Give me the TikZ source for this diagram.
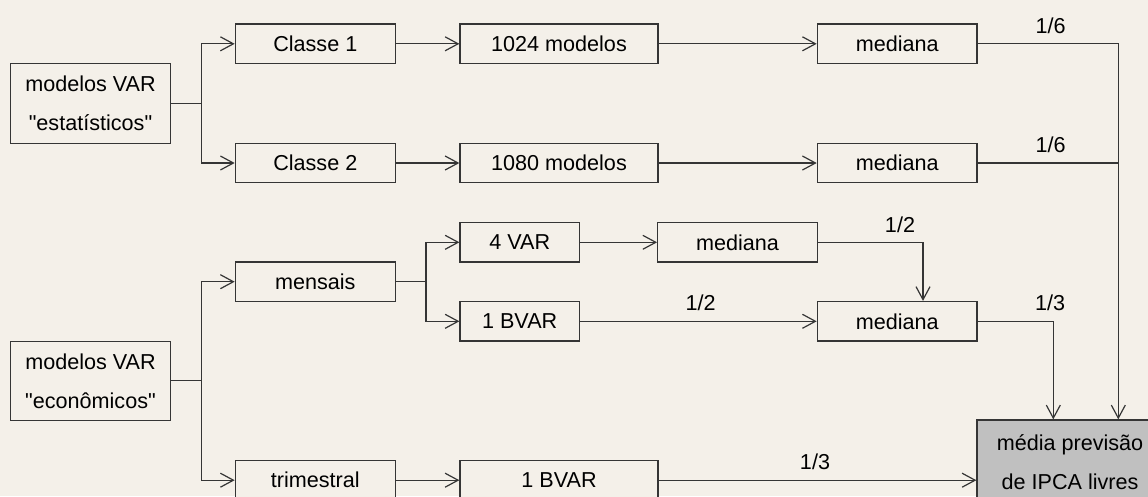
\documentclass[tikz,border=0pt]{standalone}
\usepackage{fontspec}
\setmainfont{Liberation Sans}[Ligatures=TeXOff]
\usetikzlibrary{arrows.meta}
\definecolor{paper}{HTML}{F4F0E9}
\definecolor{ink}{HTML}{353535}
\definecolor{result}{HTML}{C0C0C0}
\begin{document}
\begin{tikzpicture}[x=1pt,y=-1pt,
  box/.style={draw=ink, line width=1.3pt, fill=paper, minimum height=39.5pt,
    inner sep=0pt, align=center, text=black,
    font=\fontsize{21.6}{39}\selectfont},
  wire/.style={draw=ink, line width=1.2pt},
  arr/.style={wire, -{Straight Barb[length=13pt,width=14pt,line width=1.2pt]}},
  wt/.style={inner sep=0pt, text=black, font=\fontsize{21.6}{26}\selectfont}]
\path[use as bounding box, fill=paper] (0,0) rectangle (1148,496);
\clip (0,0) rectangle (1148,496);

% statistical VAR branch
\node[box, minimum width=159.6pt, minimum height=79.6pt] (est) at (90.5,103.5) {modelos VAR\\"estatísticos"};
\node[box, minimum width=160pt] (c1) at (315.3,43.8) {Classe 1};
\node[box, minimum width=160pt] (c2) at (315.3,163) {Classe 2};
\node[box, minimum width=198pt] (m1024) at (559,43.8) {1024 modelos};
\node[box, minimum width=198pt] (m1080) at (559,163) {1080 modelos};
\node[box, minimum width=159.7pt] (med1) at (897.2,43.8) {mediana};
\node[box, minimum width=159.7pt] (med2) at (897.2,163) {mediana};

% economic VAR branch
\node[box, minimum width=159.6pt, minimum height=79pt] (eco) at (90.5,380.8) {modelos VAR\\"econômicos"};
\node[box, minimum width=160pt] (mens) at (315.3,281.7) {mensais};
\node[box, minimum width=160pt] (tri) at (315.3,480.2) {trimestral};
\node[box, minimum width=119.3pt] (var4) at (519.7,242.3) {4 VAR};
\node[box, minimum width=119.3pt] (bvar1) at (519.7,321.3) {1 BVAR};
\node[box, minimum width=159.6pt] (medA) at (737.5,242.3) {mediana};
\node[box, minimum width=159.7pt] (medB) at (897.2,321.3) {mediana};
\node[box, minimum width=198pt] (bvar2) at (559,480.2) {1 BVAR};

% final average
\node[box, fill=result, minimum width=186pt, minimum height=84pt] (final) at (1070,462) {média previsão\\de IPCA livres};

% junction points
\coordinate (jS) at (201.7,103.5);
\coordinate (jE) at (201.7,380.8);
\coordinate (jM) at (426,281.7);
\coordinate (inR) at ([xshift=48.3pt]final.north);
\coordinate (inM) at ([xshift=-16.7pt]final.north);
\coordinate (inA) at ([xshift=25.8pt]medB.north);

% connectors
\draw[wire] (est.east) -- (jS);
\draw[arr] (jS) |- (c1.west);
\draw[arr] (jS) |- (c2.west);
\draw[arr] (c1) -- (m1024);
\draw[arr] (c2) -- (m1080);
\draw[arr] (m1024) -- (med1);
\draw[arr] (m1080) -- (med2);
\draw[arr] (med1.east) -| (inR);
\draw[wire] (med2.east) -- (med2.east -| inR);

\draw[wire] (eco.east) -- (jE);
\draw[arr] (jE) |- (mens.west);
\draw[arr] (jE) |- (tri.west);
\draw[wire] (mens.east) -- (jM);
\draw[arr] (jM) |- (var4.west);
\draw[arr] (jM) |- (bvar1.west);
\draw[arr] (var4) -- (medA);
\draw[arr] (medA.east) -| (inA);
\draw[arr] (bvar1) -- (medB);
\draw[arr] (medB.east) -| (inM);
\draw[arr] (tri) -- (bvar2);
\draw[arr] (bvar2.east) -- (bvar2.east -| final.west);

% weights
\node[wt] (w1) at (1050.5,26) {1/6};
\node[wt] (w2) at (1050.5,145) {1/6};
\node[wt] (w3) at (900,225) {1/2};
\node[wt] (w4) at (700.7,303) {1/2};
\node[wt] (w5) at (1050,303) {1/3};
\node[wt] (w6) at (815,462) {1/3};
\end{tikzpicture}
\end{document}
